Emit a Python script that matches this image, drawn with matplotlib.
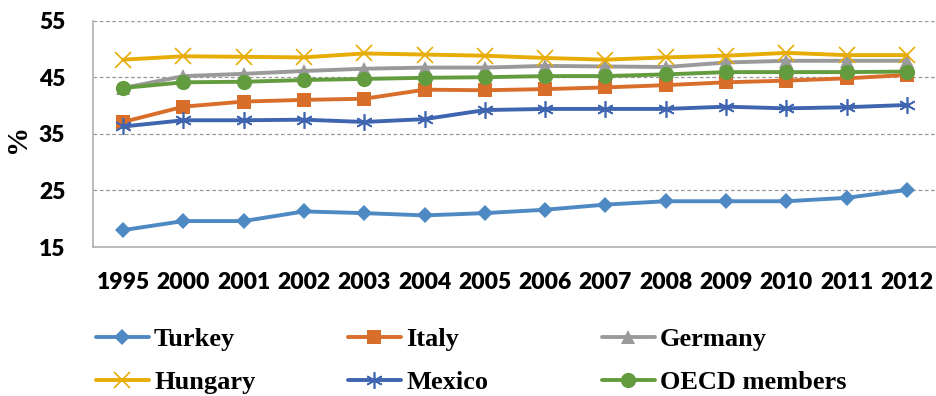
import numpy as np
import matplotlib
matplotlib.use('Agg')
import matplotlib.pyplot as plt

# years on the category axis
years = ['1995', '2000', '2001', '2002', '2003', '2004', '2005',
         '2006', '2007', '2008', '2009', '2010', '2011', '2012']

# share (%) per country
turkey  = [18.0, 19.6, 19.6, 21.3, 21.0, 20.6, 21.0, 21.6, 22.5, 23.1, 23.1, 23.1, 23.7, 25.1]
italy   = [37.1, 39.8, 40.7, 41.0, 41.2, 42.8, 42.7, 42.9, 43.2, 43.6, 44.1, 44.4, 44.8, 45.4]
germany = [43.1, 45.2, 45.6, 46.1, 46.5, 46.7, 46.7, 47.0, 46.9, 46.8, 47.6, 47.9, 47.9, 47.9]
hungary = [48.1, 48.7, 48.6, 48.5, 49.2, 49.0, 48.8, 48.4, 48.1, 48.5, 48.8, 49.3, 48.9, 48.9]
mexico  = [36.3, 37.4, 37.4, 37.5, 37.1, 37.6, 39.2, 39.4, 39.4, 39.4, 39.8, 39.5, 39.7, 40.1]
oecd    = [43.1, 44.1, 44.2, 44.5, 44.7, 44.9, 45.0, 45.2, 45.2, 45.5, 45.9, 45.9, 45.9, 46.0]

yticks = [15, 25, 35, 45, 55]

TICK_FONT = dict(family='Lato', weight='heavy', size=16.5)
LEG_FONT = dict(family='Liberation Serif', weight='bold', size=19)

fig = plt.figure(figsize=(9.37, 3.96), dpi=100)
ax = fig.add_axes([0.0993, 0.376, 0.9007, 0.572])

x = np.arange(len(years))

# name, values, colour, marker, marker size, filled
series = [
    ('Turkey', turkey, '#4f89c3', 'D', 8.5, True),
    ('Italy', italy, '#d96e2b', 's', 10, True),
    ('Germany', germany, '#9a9a9a', '^', 10, True),
    ('Hungary', hungary, '#e8ac06', 'x', 11, False),
    ('Mexico', mexico, '#3f65b0', (6, 2, 0), 12, False),
    ('OECD members', oecd, '#629c3e', 'o', 11, True),
]

lines = []
for name, vals, col, mk, ms, filled in series:
    ln, = ax.plot(x, vals, color=col, lw=2.8, marker=mk, markersize=ms,
                  markeredgewidth=1.2 if not filled else 0,
                  markerfacecolor=col, markeredgecolor=col,
                  solid_capstyle='round', label=name)
    lines.append(ln)

ax.set_xlim(-0.5, len(years) - 0.5)
ax.set_ylim(15, 55)
ax.set_xticks(x)
ax.set_xticklabels(years, fontdict=TICK_FONT)
ax.set_yticks(yticks)
ax.set_yticklabels([str(v) for v in yticks], fontdict=TICK_FONT)
ax.tick_params(axis='both', length=0)
ax.tick_params(axis='y', pad=20)
ax.tick_params(axis='x', pad=18)

ax.grid(axis='y', color='#999999', linestyle=(0, (3, 2)), linewidth=0.9)
ax.set_axisbelow(True)
for side in ('top', 'right'):
    ax.spines[side].set_visible(False)
ax.spines['left'].set_color('#b5b5b5')
ax.spines['bottom'].set_color('#b5b5b5')
ax.spines['left'].set_linewidth(1.3)
ax.spines['bottom'].set_linewidth(1.3)

ax.set_ylabel('%', fontdict=dict(family='Liberation Serif', weight='bold', size=21))
ax.yaxis.set_label_coords(-0.074, 0.48)

# legend laid out as three columns of two entries
col_x = [96 / 937, 348 / 937, 602 / 937]
for i, cx in enumerate(col_x):
    hs = [lines[i], lines[i + 3]]
    fig.legend(hs, [h.get_label() for h in hs], loc='center left',
               bbox_to_anchor=(cx, 0.089), frameon=False, prop=LEG_FONT,
               borderaxespad=0, borderpad=0, handlelength=2.0,
               handletextpad=0.2, labelspacing=0.75)

fig.savefig('out.png', dpi=100)
